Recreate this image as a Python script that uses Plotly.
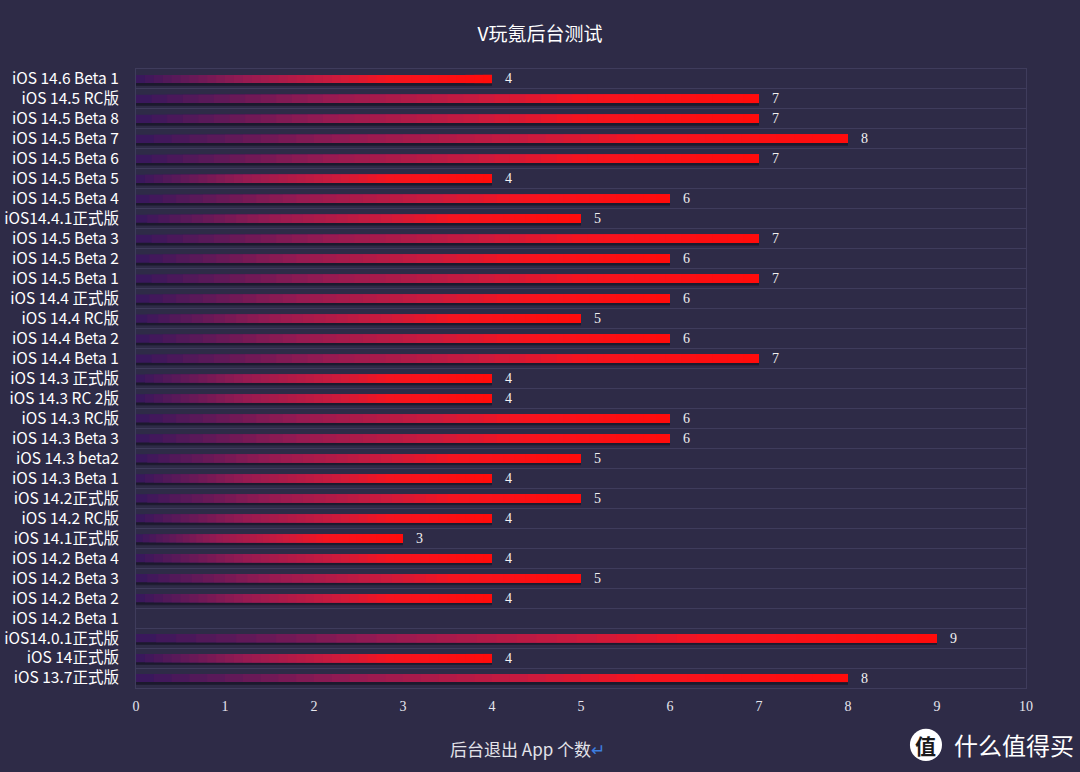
import plotly.graph_objects as go

# data, top to bottom as in the chart
versions = [
    "iOS 14.6 Beta 1", "iOS 14.5 RC版", "iOS 14.5 Beta 8", "iOS 14.5 Beta 7",
    "iOS 14.5 Beta 6", "iOS 14.5 Beta 5", "iOS 14.5 Beta 4", "iOS14.4.1正式版",
    "iOS 14.5 Beta 3", "iOS 14.5 Beta 2", "iOS 14.5 Beta 1", "iOS 14.4 正式版",
    "iOS 14.4 RC版", "iOS 14.4 Beta 2", "iOS 14.4 Beta 1", "iOS 14.3 正式版",
    "iOS 14.3 RC 2版", "iOS 14.3 RC版", "iOS 14.3 Beta 3", "iOS 14.3 beta2",
    "iOS 14.3 Beta 1", "iOS 14.2正式版", "iOS 14.2 RC版", "iOS 14.1正式版",
    "iOS 14.2 Beta 4", "iOS 14.2 Beta 3", "iOS 14.2 Beta 2", "iOS 14.2 Beta 1",
    "iOS14.0.1正式版", "iOS 14正式版", "iOS 13.7正式版",
]
apps_closed = [
    4, 7, 7, 8, 7, 4, 6, 5, 7, 6, 7, 6, 5, 6, 7, 4,
    4, 6, 6, 5, 4, 5, 4, 3, 4, 5, 4, None, 9, 4, 8,
]
x_ticks = list(range(0, 11))

BG = "#2e2b47"
GRID = "#3f3c5c"
N_STEPS = 40
stops = [
    (0.0, (58, 24, 92)), (0.3, (150, 26, 82)), (0.55, (200, 26, 62)),
    (0.72, (245, 20, 32)), (1.0, (255, 12, 12)),
]


def grad_color(t):
    for (t0, c0), (t1, c1) in zip(stops, stops[1:]):
        if t <= t1:
            f = (t - t0) / (t1 - t0)
            return "rgb(%d,%d,%d)" % tuple(round(a + (b - a) * f) for a, b in zip(c0, c1))
    return "rgb(%d,%d,%d)" % stops[-1][1]


vals = [v if v is not None else 0 for v in apps_closed]

fig = go.Figure()

# soft shadow under each bar
for off, alpha in [(-0.13, 0.35), (-0.09, 0.45)]:
    fig.add_trace(go.Bar(
        y=versions, x=vals, orientation="h", width=0.44, offset=off,
        marker=dict(color="rgba(18,16,32,%s)" % alpha, line_width=0),
        hoverinfo="skip", showlegend=False,
    ))

# gradient: each step covers from its start to the bar end, painted left to right
for k in range(N_STEPS):
    fig.add_trace(go.Bar(
        y=versions,
        x=[v * (N_STEPS - k) / N_STEPS for v in vals],
        base=[v * k / N_STEPS for v in vals],
        orientation="h", width=0.41, offset=-0.205,
        marker=dict(color=grad_color(k / (N_STEPS - 1)), line_width=0),
        hoverinfo="skip", showlegend=False,
    ))

annotations = []
for name, v in zip(versions, apps_closed):
    if v is None:
        continue
    annotations.append(dict(
        x=v, y=name, xref="x", yref="y", text=str(v), showarrow=False,
        xanchor="left", xshift=11,
        font=dict(family="Liberation Serif", size=14, color="#f2f2f2"),
    ))

annotations.append(dict(
    x=0.44, y=-0.097, xref="paper", yref="paper", showarrow=False,
    xanchor="center", yanchor="middle",
    text="后台退出 App 个数<span style='color:#3d7fe0'>↵</span>",
    font=dict(family="Noto Sans CJK SC", size=17, color="#e4e4ea"),
))
# watermark
annotations.append(dict(
    x=0.917, y=-0.092, xref="paper", yref="paper", showarrow=False,
    text="什么值得买", xanchor="left", yanchor="middle",
    font=dict(family="Noto Sans CJK SC", size=24, color="#ffffff"),
))
annotations.append(dict(
    x=0.8876, y=-0.092, xref="paper", yref="paper", showarrow=False,
    xanchor="center", yanchor="middle",
    text="<b>值</b>", font=dict(family="Noto Sans CJK SC", size=21, color="#1a1a1a"),
))

fig.update_layout(
    width=1080, height=772,
    paper_bgcolor=BG, plot_bgcolor=BG,
    barmode="overlay",
    margin=dict(l=136, r=54, t=69, b=84),
    title=dict(
        text="V玩氪后台测试", x=0.5, xanchor="center", y=0.955, yanchor="middle",
        font=dict(family="Noto Sans CJK SC", size=19, color="#ffffff"),
    ),
    xaxis=dict(
        range=[0, 10], tickvals=x_ticks, showgrid=False, zeroline=False,
        showline=True, mirror=True, linecolor=GRID, linewidth=1,
        ticks="", ticklabelstandoff=5, automargin=False,
        tickfont=dict(family="Liberation Serif", size=14, color="#e6e6ee"),
    ),
    yaxis=dict(
        type="category", categoryorder="array", categoryarray=versions,
        autorange="reversed", tickson="boundaries",
        showgrid=True, gridcolor=GRID, gridwidth=1,
        showline=True, mirror=True, linecolor=GRID, linewidth=1,
        ticks="", ticklabelstandoff=13, automargin=False,
        tickfont=dict(family="Noto Sans CJK SC", size=15.5, color="#ffffff"),
    ),
    annotations=annotations,
    shapes=[dict(
        type="circle", xref="paper", yref="paper",
        x0=0.8696, x1=0.9056, y0=-0.118, y1=-0.066,
        fillcolor="#ffffff", line_width=0,
    )],
)

fig.write_html(
    "out.html",
    config={"displayModeBar": False},
    post_script="document.body.style.margin='0';",
)
